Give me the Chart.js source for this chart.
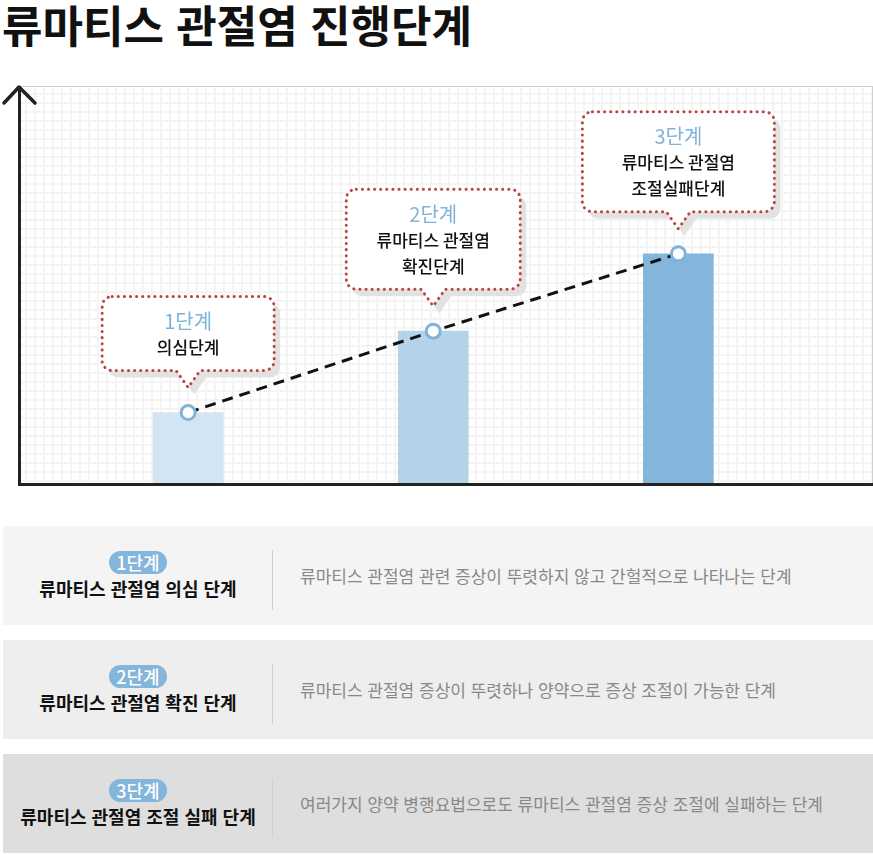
<!DOCTYPE html>
<html lang="ko">
<head>
<meta charset="utf-8">
<title>류마티스 관절염 진행단계</title>
<script src="https://cdn.jsdelivr.net/npm/chart.js@4.4.1/dist/chart.umd.min.js"></script>
<style>
  body { margin: 0; background: #fff; font-family: "Noto Sans CJK KR", sans-serif; width: 873px; height: 855px; position: relative; overflow: hidden; }
  h1 { position: absolute; left: 2px; top: 0; margin: 0; font-size: 44px; line-height: 48px; font-weight: 700; color: #111; white-space: nowrap; }
  #chartBox { position: absolute; left: 0; top: 60px; width: 873px; height: 440px; }
  .row { position: absolute; left: 3px; width: 870px; height: 99px; }
  .row .pillWrap { position: absolute; left: 0; top: 25px; width: 270px; text-align: center; }
  .row .pill { display: inline-block; height: 23px; line-height: 23px; padding: 0 7px; border-radius: 12px; background: #84b5da; color: #fff; font-size: 18px; font-weight: 500; }
  .row .label { position: absolute; left: 0; top: 50px; width: 270px; text-align: center; font-size: 18px; line-height: 24px; font-weight: 700; color: #111; white-space: nowrap; }
  .row .divider { position: absolute; left: 269px; top: 24px; width: 1px; height: 60px; background: #d0d0d0; }
  .row .desc { position: absolute; left: 297px; top: 38px; font-size: 17px; line-height: 24px; color: #888; white-space: nowrap; }
</style>
</head>
<body>
<h1>류마티스 관절염 진행단계</h1>
<div id="chartBox"><canvas id="stageChart" width="873" height="440"></canvas></div>
<div id="rows"></div>
<script>
// 단계 데이터
const STAGES = ['1단계', '2단계', '3단계'];
const STAGE_X = [1, 2, 3];
const LEVELS = [18, 38.5, 58];
const CALLOUT_LINES = [['의심단계'], ['류마티스 관절염', '확진단계'], ['류마티스 관절염', '조절실패단계']];
const STAGE_NAMES = ['류마티스 관절염 의심 단계', '류마티스 관절염 확진 단계', '류마티스 관절염 조절 실패 단계'];
const STAGE_DESCS = [
    '류마티스 관절염 관련 증상이 뚜렷하지 않고 간헐적으로 나타나는 단계',
    '류마티스 관절염 증상이 뚜렷하나 양약으로 증상 조절이 가능한 단계',
    '여러가지 양약 병행요법으로도 류마티스 관절염 증상 조절에 실패하는 단계'
];

// 스타일
const BAR_COLORS = ['#d3e4f2', '#b4d2e8', '#84b5da'];
const ROW_COLORS = ['#f4f4f4', '#eeeeee', '#dedede'];
const ROW_TOPS = [526, 640, 754];
const CALLOUT_WIDTHS = [172, 174, 192];
const FONT = '"Noto Sans CJK KR", sans-serif';

// 하단 설명 표
const rowsEl = document.getElementById('rows');
STAGES.forEach((s, i) => {
    const row = document.createElement('div');
    row.className = 'row';
    row.style.top = ROW_TOPS[i] + 'px';
    row.style.background = ROW_COLORS[i];
    row.innerHTML = '<div class="pillWrap"><span class="pill">' + s + '</span></div>' +
        '<div class="label">' + STAGE_NAMES[i] + '</div>' +
        '<div class="divider"></div>' +
        '<div class="desc">' + STAGE_DESCS[i] + '</div>';
    rowsEl.appendChild(row);
});

// 모눈 배경
const gridBg = {
    id: 'gridBg',
    beforeDraw(chart) {
        const { ctx, chartArea: { left, top, right, bottom } } = chart;
        ctx.save();
        ctx.fillStyle = '#fff';
        ctx.fillRect(left, top, right - left, bottom - top);
        ctx.fillStyle = '#f4f4f4';
        for (let x = left + 6; x < right; x += 9) ctx.fillRect(x, top, 2, bottom - top);
        for (let y = top + 6; y < bottom; y += 9) ctx.fillRect(left, y, right - left, 2);
        ctx.strokeStyle = '#cfcfcf';
        ctx.lineWidth = 1;
        ctx.beginPath();
        ctx.moveTo(left, top - 0.5);
        ctx.lineTo(right + 1, top - 0.5);
        ctx.moveTo(right + 0.5, top);
        ctx.lineTo(right + 0.5, bottom);
        ctx.stroke();
        ctx.restore();
    }
};

// 세로축 화살표
const arrowHead = {
    id: 'arrowHead',
    afterDraw(chart) {
        const { ctx, chartArea: { left, top } } = chart;
        ctx.save();
        ctx.strokeStyle = '#222';
        ctx.lineWidth = 3.5;
        ctx.lineCap = 'round';
        ctx.lineJoin = 'round';
        ctx.beginPath();
        ctx.moveTo(left - 15, top + 16);
        ctx.lineTo(left, top);
        ctx.lineTo(left + 16, top + 16);
        ctx.stroke();
        ctx.restore();
    }
};

function bubblePath(ctx, l, t, w, h, r, cx, tipY) {
    const rt = l + w, b = t + h;
    ctx.beginPath();
    ctx.moveTo(l + r, t);
    ctx.lineTo(rt - r, t);
    ctx.arcTo(rt, t, rt, t + r, r);
    ctx.lineTo(rt, b - r);
    ctx.arcTo(rt, b, rt - r, b, r);
    ctx.lineTo(cx + 12, b);
    ctx.lineTo(cx, tipY);
    ctx.lineTo(cx - 12, b);
    ctx.lineTo(l + r, b);
    ctx.arcTo(l, b, l, b - r, r);
    ctx.lineTo(l, t + r);
    ctx.arcTo(l, t, l + r, t, r);
    ctx.closePath();
}

// 말풍선
const callouts = {
    id: 'callouts',
    afterDatasetsDraw(chart) {
        const { ctx } = chart;
        const points = chart.getDatasetMeta(0).data;
        ctx.save();
        points.forEach((pt, i) => {
            const lines = CALLOUT_LINES[i];
            const w = CALLOUT_WIDTHS[i];
            const h = 48 + 26 * lines.length;
            const tipY = pt.y - 25;
            const b = tipY - 17;
            const t = b - h;
            const l = pt.x - w / 2;

            ctx.setLineDash([]);
            bubblePath(ctx, l + 6, t + 7, w, h, 10, pt.x + 6, tipY + 7);
            ctx.fillStyle = '#e2e2e2';
            ctx.fill();

            bubblePath(ctx, l, t, w, h, 10, pt.x, tipY);
            ctx.fillStyle = '#fff';
            ctx.fill();
            ctx.setLineDash([0.1, 6]);
            ctx.lineCap = 'round';
            ctx.lineWidth = 3;
            ctx.strokeStyle = '#b9433d';
            ctx.stroke();

            ctx.setLineDash([]);
            ctx.textAlign = 'center';
            ctx.textBaseline = 'middle';
            ctx.fillStyle = '#80b3d9';
            ctx.font = '20px ' + FONT;
            ctx.fillText(STAGES[i], pt.x, t + 25);
            ctx.fillStyle = '#111';
            ctx.font = '500 17px ' + FONT;
            lines.forEach((txt, k) => ctx.fillText(txt, pt.x, t + 25 + 26 * (k + 1)));
        });
        ctx.restore();
    }
};

const points = STAGE_X.map((x, i) => ({ x: x, y: LEVELS[i] }));

new Chart(document.getElementById('stageChart'), {
    type: 'bar',
    data: {
        datasets: [
            {
                type: 'line', data: points, order: 0, fill: false, tension: 0,
                borderColor: '#111', borderWidth: 3, borderDash: [11, 7],
                pointRadius: 7, pointHoverRadius: 7, pointBorderWidth: 3,
                pointBorderColor: '#80b3d9', pointBackgroundColor: '#fff'
            },
            { type: 'bar', data: points, order: 1, backgroundColor: BAR_COLORS, barThickness: 70 }
        ]
    },
    options: {
        responsive: false,
        animation: false,
        events: [],
        layout: { autoPadding: false, padding: { left: 19, right: 1, top: 27, bottom: 16 } },
        plugins: { legend: { display: false }, tooltip: { enabled: false } },
        scales: {
            x: {
                type: 'linear', min: 0.31, max: 3.79, offset: false,
                ticks: { display: false }, grid: { display: false, drawTicks: false },
                border: { display: true, width: 3, color: '#222', z: 1 }
            },
            y: {
                min: 0, max: 100,
                ticks: { display: false }, grid: { display: false, drawTicks: false },
                border: { display: true, width: 3, color: '#222', z: 1 }
            }
        }
    },
    plugins: [gridBg, callouts, arrowHead]
});
</script>
</body>
</html>
